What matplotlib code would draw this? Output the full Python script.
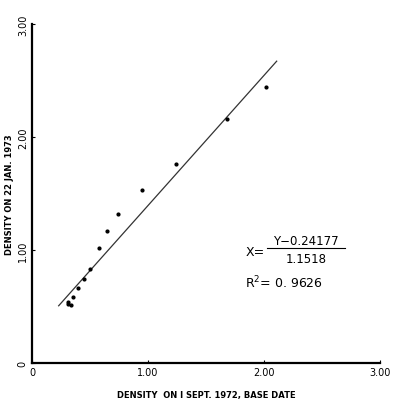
import matplotlib.pyplot as plt
import numpy as np

# density readings, base date (x) vs 22 Jan 1973 (y)
density_sept = [0.31, 0.31, 0.34, 0.35, 0.40, 0.45, 0.50, 0.58, 0.65, 0.74, 0.95, 1.24, 1.68, 2.02]
density_jan = [0.54, 0.52, 0.51, 0.58, 0.66, 0.74, 0.83, 1.02, 1.17, 1.32, 1.53, 1.76, 2.16, 2.44]

slope = 1.1518
intercept = 0.24177
line_x = [0.23, 2.11]

ticks = [0, 1, 2, 3]
tick_labels = ['0', '1.00', '2.00', '3.00']

fig = plt.figure(figsize=(3.94, 4.02), dpi=100)
ax = fig.add_axes([0.0812, 0.0945, 0.883, 0.843])

ax.scatter(density_sept, density_jan, s=4, color='black', zorder=3)
ax.plot(line_x, [slope * v + intercept for v in line_x], color='#333333', lw=0.9)

ax.set_xlim(0, 3)
ax.set_ylim(0, 3)
for side in ['top', 'right']:
    ax.spines[side].set_visible(False)
for side in ['left', 'bottom']:
    ax.spines[side].set_linewidth(1.6)

ax.set_xticks(ticks)
ax.set_xticklabels(tick_labels, fontsize=7)
ax.set_yticks(ticks)
ax.set_yticklabels(tick_labels, fontsize=7, rotation=90, va='center')
ax.tick_params(direction='in', length=2, width=0.8, pad=3)

ax.set_xlabel('DENSITY  ON I SEPT. 1972, BASE DATE', fontsize=6, fontweight='bold', labelpad=9)
ax.set_ylabel('DENSITY ON 22 JAN. 1973', fontsize=6, fontweight='bold', labelpad=3)

# regression equation written as a fraction
ax.text(1.84, 0.99, 'X=', fontsize=9, va='center', ha='left')
ax.text(2.36, 1.085, 'Y\u22120.24177', fontsize=8.5, va='center', ha='center')
ax.plot([2.03, 2.70], [1.02, 1.02], color='black', lw=0.8)
ax.text(2.36, 0.925, '1.1518', fontsize=8.5, va='center', ha='center')
ax.text(1.84, 0.717, r'R$^2$= 0. 9626', fontsize=9, va='center', ha='left')

fig.savefig('out.png', dpi=100)
